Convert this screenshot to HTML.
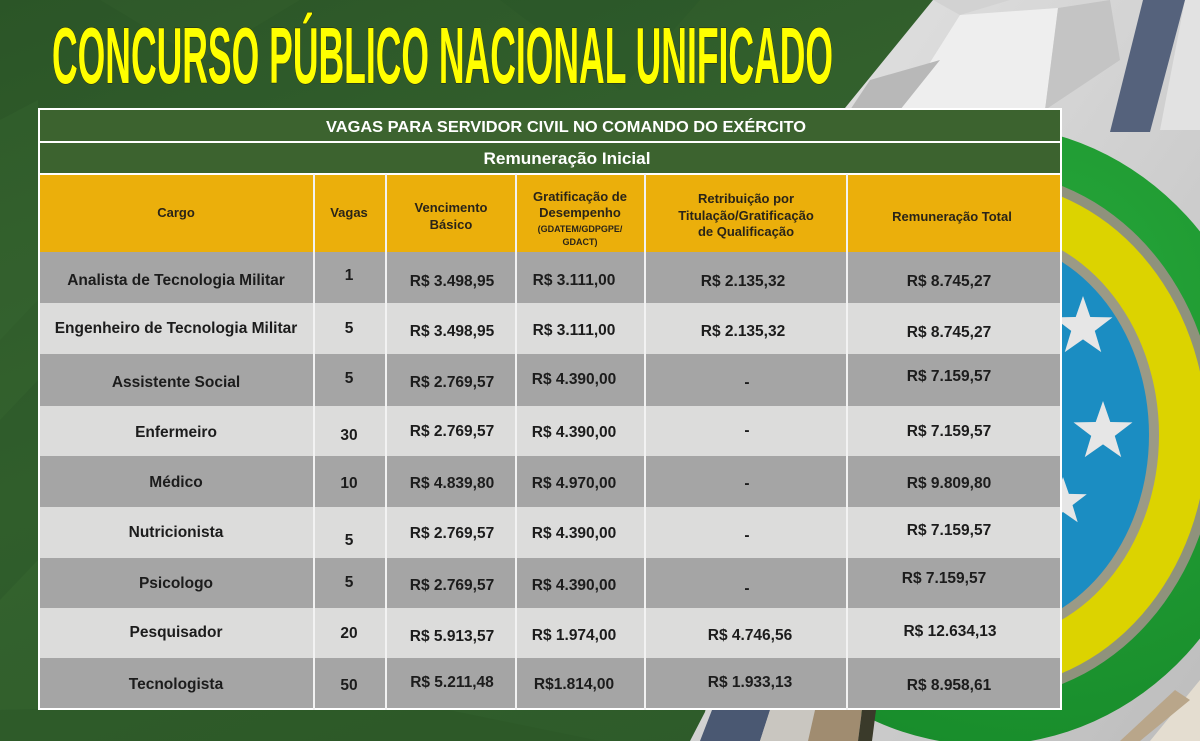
<!DOCTYPE html>
<html>
<head>
<meta charset="utf-8">
<style>
  html, body { margin:0; padding:0; background:#2f5b2a; }
  body { width:1200px; height:741px; overflow:hidden; }
  svg { display:block; }
  .t { font-family:"Liberation Sans", Arial, sans-serif; font-weight:bold; }
</style>
</head>
<body>
<svg width="1200" height="741" viewBox="0 0 1200 741" xmlns="http://www.w3.org/2000/svg">
  <defs>
    <linearGradient id="bg" x1="0" y1="0" x2="0.6" y2="1">
      <stop offset="0" stop-color="#2b5527"/>
      <stop offset="0.5" stop-color="#34632e"/>
      <stop offset="1" stop-color="#2e5b2a"/>
    </linearGradient>
    <linearGradient id="paper" x1="0" y1="0" x2="1" y2="1">
      <stop offset="0" stop-color="#e6e6e6"/>
      <stop offset="1" stop-color="#bdbdbd"/>
    </linearGradient>
    <radialGradient id="grn" cx="0.6" cy="0.3" r="0.8">
      <stop offset="0" stop-color="#27a83a"/>
      <stop offset="1" stop-color="#178a2a"/>
    </radialGradient>
    <polygon id="star" points="0,-1 0.235,-0.324 0.951,-0.309 0.380,0.124 0.588,0.809 0,0.4 -0.588,0.809 -0.380,0.124 -0.951,-0.309 -0.235,-0.324"/>
  </defs>

  <!-- green background -->
  <rect x="0" y="0" width="1200" height="741" fill="url(#bg)"/>
  <polygon points="0,120 38,100 38,300 0,340" fill="#3d6d35" opacity="0.25"/>
  <polygon points="0,420 38,380 38,560 0,600" fill="#244a22" opacity="0.2"/>
  <polygon points="100,0 300,0 200,60" fill="#3a6a33" opacity="0.2"/>
  <polygon points="500,0 700,0 620,90" fill="#25502a" opacity="0.2"/>
  <polygon points="0,710 400,700 600,741 0,741" fill="#2a5425" opacity="0.4"/>

  <!-- crumpled paper on right -->
  <polygon points="933,0 1200,0 1200,741 690,741 705,712 845,108" fill="url(#paper)"/>
  <polygon points="960,15 1058,8 1045,110 900,110" fill="#eeeeee"/>
  <polygon points="1058,8 1110,0 1120,60 1045,110" fill="#c4c4c4"/>
  <polygon points="933,0 1010,0 960,15" fill="#d2d2d2"/>
  <polygon points="870,80 940,60 900,110 850,110" fill="#b8b8b8"/>
  <polygon points="1185,0 1200,0 1200,130 1160,130" fill="#e2e2e2"/>
  <!-- slate stripe -->
  <polygon points="1143,0 1185,0 1150,132 1110,132" fill="#55627c"/>

  <!-- emblem -->
  <ellipse cx="985" cy="435" rx="285" ry="310" fill="url(#grn)"/>
  <ellipse cx="985" cy="435" rx="232" ry="264" fill="#8f927c"/>
  <ellipse cx="985" cy="435" rx="222" ry="254" fill="#dcd300"/>
  <ellipse cx="985" cy="435" rx="174" ry="206" fill="#9b9a86"/>
  <ellipse cx="985" cy="435" rx="164" ry="196" fill="#1b8dc2"/>
  <use href="#star" transform="translate(1083,327) scale(31)" fill="#e6e6e6"/>
  <use href="#star" transform="translate(1103,432) scale(31)" fill="#e6e6e6"/>
  <use href="#star" transform="translate(1063,502) scale(25)" fill="#e6e6e6"/>

  <!-- bottom strip details -->
  <polygon points="700,741 712,710 770,710 760,741" fill="#4a5872"/>
  <polygon points="760,741 770,710 815,710 808,741" fill="#c9c6c0"/>
  <polygon points="808,741 815,710 862,710 858,741" fill="#a08c70"/>
  <polygon points="858,741 862,710 876,710 872,741" fill="#3a3a2a"/>
  <polygon points="1150,741 1200,680 1200,741" fill="#e4ddd0"/>
  <polygon points="1120,741 1175,690 1190,700 1140,741" fill="#b9a68a"/>

  <!-- title -->
  <text class="t" x="52" y="83" font-size="80" textLength="781" lengthAdjust="spacingAndGlyphs" fill="#ffff00" stroke="#2a3312" stroke-width="1.2" paint-order="stroke">CONCURSO PÚBLICO NACIONAL UNIFICADO</text>

  <!-- table backgrounds -->
  <rect x="38" y="108" width="1024" height="602" fill="#ffffff"/>
  <rect x="40" y="110" width="1020" height="31" fill="#3c632f"/>
  <rect x="40" y="143" width="1020" height="30" fill="#3c632f"/>
  <rect x="40" y="175" width="1020" height="77" fill="#ebaf0b"/>
  <rect x="40" y="252" width="1020" height="51" fill="#a5a5a5"/>
  <rect x="40" y="303" width="1020" height="51" fill="#dcdcdb"/>
  <rect x="40" y="354" width="1020" height="52" fill="#a5a5a5"/>
  <rect x="40" y="406" width="1020" height="50" fill="#dcdcdb"/>
  <rect x="40" y="456" width="1020" height="51" fill="#a5a5a5"/>
  <rect x="40" y="507" width="1020" height="51" fill="#dcdcdb"/>
  <rect x="40" y="558" width="1020" height="50" fill="#a5a5a5"/>
  <rect x="40" y="608" width="1020" height="50" fill="#dcdcdb"/>
  <rect x="40" y="658" width="1020" height="50" fill="#a5a5a5"/>

  <!-- vertical dividers -->
  <g fill="#f2f2f2">
    <rect x="313" y="174" width="2" height="536"/>
    <rect x="385" y="174" width="2" height="536"/>
    <rect x="515" y="174" width="2" height="536"/>
    <rect x="644" y="174" width="2" height="536"/>
    <rect x="846" y="174" width="2" height="536"/>
  </g>

  <!-- green header texts -->
  <text class="t" x="566" y="132" font-size="16" text-anchor="middle" textLength="480" lengthAdjust="spacingAndGlyphs" fill="#ffffff">VAGAS PARA SERVIDOR CIVIL NO COMANDO DO EXÉRCITO</text>
  <text class="t" x="567" y="164" font-size="16.5" text-anchor="middle" textLength="167" lengthAdjust="spacingAndGlyphs" fill="#ffffff">Remuneração Inicial</text>

  <!-- yellow header texts -->
  <g class="t" font-size="13" fill="#2a2418" text-anchor="middle">
    <text x="176" y="217">Cargo</text>
    <text x="349" y="217">Vagas</text>
    <text x="451" y="212">Vencimento</text>
    <text x="451" y="229">Básico</text>
    <text x="580" y="201">Gratificação de</text>
    <text x="580" y="217">Desempenho</text>
    <text x="580" y="232" font-size="9">(GDATEM/GDPGPE/</text>
    <text x="580" y="245" font-size="9">GDACT)</text>
    <text x="746" y="203">Retribuição por</text>
    <text x="746" y="220">Titulação/Gratificação</text>
    <text x="746" y="236">de Qualificação</text>
    <text x="952" y="221">Remuneração Total</text>
  </g>

  <!-- data -->
  <g class="t" font-size="15.5" fill="#1c1c1c" text-anchor="middle">
    <text x="176" y="285">Analista de Tecnologia Militar</text>
    <text x="349" y="280">1</text>
    <text x="452" y="286">R$ 3.498,95</text>
    <text x="574" y="285">R$ 3.111,00</text>
    <text x="743" y="286">R$ 2.135,32</text>
    <text x="949" y="286">R$ 8.745,27</text>

    <text x="176" y="333">Engenheiro de Tecnologia Militar</text>
    <text x="349" y="333">5</text>
    <text x="452" y="336">R$ 3.498,95</text>
    <text x="574" y="335">R$ 3.111,00</text>
    <text x="743" y="336">R$ 2.135,32</text>
    <text x="949" y="337">R$ 8.745,27</text>

    <text x="176" y="387">Assistente Social</text>
    <text x="349" y="383">5</text>
    <text x="452" y="387">R$ 2.769,57</text>
    <text x="574" y="384">R$ 4.390,00</text>
    <text x="747" y="387">-</text>
    <text x="949" y="381">R$ 7.159,57</text>

    <text x="176" y="437">Enfermeiro</text>
    <text x="349" y="440">30</text>
    <text x="452" y="436">R$ 2.769,57</text>
    <text x="574" y="437">R$ 4.390,00</text>
    <text x="747" y="435">-</text>
    <text x="949" y="436">R$ 7.159,57</text>

    <text x="176" y="487">Médico</text>
    <text x="349" y="488">10</text>
    <text x="452" y="488">R$ 4.839,80</text>
    <text x="574" y="488">R$ 4.970,00</text>
    <text x="747" y="488">-</text>
    <text x="949" y="488">R$ 9.809,80</text>

    <text x="176" y="537">Nutricionista</text>
    <text x="349" y="545">5</text>
    <text x="452" y="538">R$ 2.769,57</text>
    <text x="574" y="538">R$ 4.390,00</text>
    <text x="747" y="540">-</text>
    <text x="949" y="535">R$ 7.159,57</text>

    <text x="176" y="588">Psicologo</text>
    <text x="349" y="587">5</text>
    <text x="452" y="590">R$ 2.769,57</text>
    <text x="574" y="590">R$ 4.390,00</text>
    <text x="747" y="593">-</text>
    <text x="944" y="583">R$ 7.159,57</text>

    <text x="176" y="637">Pesquisador</text>
    <text x="349" y="638">20</text>
    <text x="452" y="641">R$ 5.913,57</text>
    <text x="574" y="640">R$ 1.974,00</text>
    <text x="750" y="640">R$ 4.746,56</text>
    <text x="950" y="636">R$ 12.634,13</text>

    <text x="176" y="689">Tecnologista</text>
    <text x="349" y="690">50</text>
    <text x="452" y="687">R$ 5.211,48</text>
    <text x="574" y="689">R$1.814,00</text>
    <text x="750" y="687">R$ 1.933,13</text>
    <text x="949" y="690">R$ 8.958,61</text>
  </g>
</svg>
</body>
</html>
